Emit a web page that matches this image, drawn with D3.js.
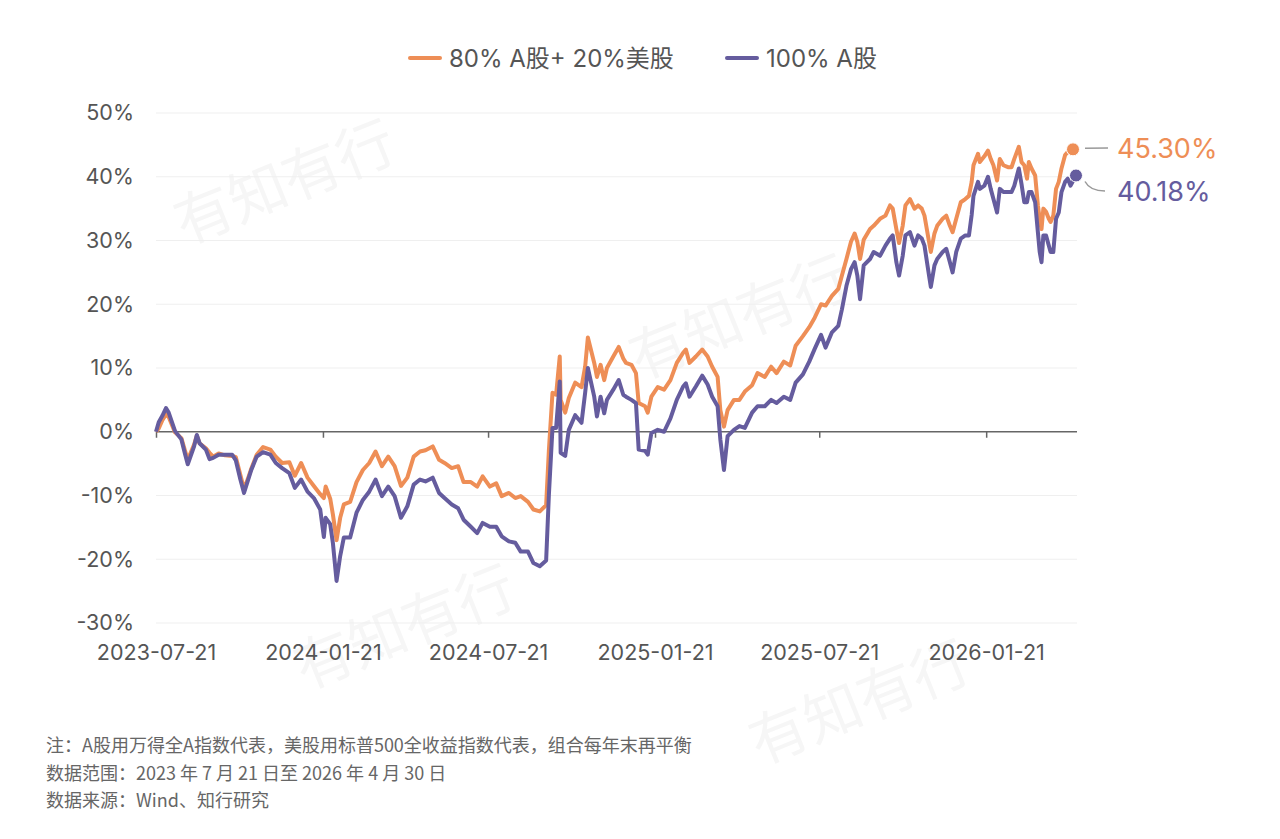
<!DOCTYPE html>
<html>
<head>
<meta charset="utf-8">
<script src="https://cdn.jsdelivr.net/npm/d3@7"></script>
<style>
  body { margin: 0; background: #fff; }
  svg { display: block; font-family: Inter, "Noto Sans CJK SC", sans-serif; }
</style>
</head>
<body>
<div id="chart"></div>
<script>
// 组合累计收益（%），按日期读图估计
var dates = [
  "2023-07-21","2023-07-24","2023-07-28","2023-08-01","2023-08-04","2023-08-11","2023-08-18","2023-08-22","2023-08-25","2023-09-01",
  "2023-09-04","2023-09-07","2023-09-14","2023-09-18","2023-09-22","2023-09-28","2023-10-05","2023-10-13","2023-10-17","2023-10-22",
  "2023-10-26","2023-10-30","2023-11-03","2023-11-09","2023-11-16","2023-11-24","2023-11-30","2023-12-07","2023-12-15","2023-12-21",
  "2023-12-28","2024-01-04","2024-01-11","2024-01-18","2024-01-22","2024-01-24","2024-01-29","2024-02-01","2024-02-05","2024-02-09",
  "2024-02-13","2024-02-20","2024-02-27","2024-03-05","2024-03-12","2024-03-19","2024-03-26","2024-04-02","2024-04-09","2024-04-16",
  "2024-04-23","2024-04-30","2024-05-07","2024-05-13","2024-05-21","2024-05-28","2024-06-03","2024-06-11","2024-06-18","2024-06-24",
  "2024-07-02","2024-07-09","2024-07-15","2024-07-23","2024-07-30","2024-08-05","2024-08-13","2024-08-20","2024-08-26","2024-09-03",
  "2024-09-09","2024-09-16","2024-09-23","2024-09-26","2024-09-30","2024-10-04","2024-10-08","2024-10-09","2024-10-14","2024-10-18",
  "2024-10-25","2024-11-01","2024-11-05","2024-11-08","2024-11-15","2024-11-18","2024-11-22","2024-11-26","2024-11-29","2024-12-06",
  "2024-12-12","2024-12-17","2024-12-20","2024-12-26","2024-12-31","2025-01-03","2025-01-10","2025-01-13","2025-01-17","2025-01-24",
  "2025-01-31","2025-02-07","2025-02-14","2025-02-21","2025-02-24","2025-02-28","2025-03-07","2025-03-14","2025-03-20","2025-03-25",
  "2025-03-31","2025-04-03","2025-04-07","2025-04-11","2025-04-18","2025-04-24","2025-04-30","2025-05-08","2025-05-14","2025-05-22",
  "2025-05-29","2025-06-04","2025-06-12","2025-06-19","2025-06-25","2025-07-03","2025-07-10","2025-07-16","2025-07-23","2025-07-28",
  "2025-08-04","2025-08-11","2025-08-15","2025-08-20","2025-08-25","2025-08-29","2025-09-01","2025-09-04","2025-09-08","2025-09-15",
  "2025-09-19","2025-09-26","2025-10-02","2025-10-07","2025-10-10","2025-10-14","2025-10-17","2025-10-21","2025-10-24","2025-10-29",
  "2025-11-03","2025-11-07","2025-11-11","2025-11-14","2025-11-19","2025-11-21","2025-11-25","2025-11-28","2025-12-04","2025-12-08",
  "2025-12-12","2025-12-15","2025-12-19","2025-12-24","2025-12-29","2026-01-02","2026-01-05","2026-01-07","2026-01-12","2026-01-14",
  "2026-01-19","2026-01-23","2026-01-26","2026-01-29","2026-02-02","2026-02-05","2026-02-09","2026-02-14","2026-02-18","2026-02-21",
  "2026-02-26","2026-03-01","2026-03-04","2026-03-07","2026-03-09","2026-03-12","2026-03-16","2026-03-19","2026-03-21","2026-03-23",
  "2026-03-25","2026-03-28","2026-03-31","2026-04-02","2026-04-05","2026-04-08","2026-04-11","2026-04-14","2026-04-18","2026-04-21",
  "2026-04-24","2026-04-30"
];

// 80% A股 + 20% 美股
var mixValues = [
  0, 0.5, 1.8, 2.7, 2.3, -0.1, -1.0, -3.0, -4.4, -2.0,
  -0.6, -1.8, -2.6, -3.3, -3.9, -3.4, -3.7, -3.8, -4.0, -6.8,
  -9.0, -7.5, -5.8, -3.6, -2.4, -2.8, -3.9, -4.9, -4.8, -6.9,
  -4.9, -7.2, -8.5, -9.8, -10.4, -8.6, -10.5, -13.0, -17.0, -13.5,
  -11.4, -11.0, -7.9, -6.0, -4.9, -3.1, -5.4, -3.9, -5.4, -8.5,
  -7.2, -3.9, -3.1, -2.9, -2.3, -4.4, -4.9, -5.7, -5.4, -7.9,
  -7.9, -8.6, -7.0, -8.6, -8.1, -10.1, -9.6, -10.4, -10.1, -11.0,
  -12.2, -12.5, -11.5, -3.0, 6.1, 5.8, 11.8, 5.0, 3.0, 5.3,
  7.7, 7.0, 10.2, 14.8, 10.8, 8.6, 10.5, 8.1, 10.0, 11.8,
  13.3, 11.5, 10.8, 10.5, 9.2, 4.5, 4.0, 3.0, 5.5, 7.0,
  6.6, 8.1, 10.8, 12.4, 12.9, 10.8, 11.8, 12.9, 11.8, 10.2,
  8.6, 3.4, 0.8, 3.4, 5.0, 5.0, 6.3, 7.3, 9.2, 8.6,
  10.2, 9.2, 11.0, 10.4, 13.5, 15.0, 16.4, 17.9, 20.0, 19.8,
  21.3, 22.4, 24.5, 27.1, 29.8, 31.1, 29.8, 27.1, 30.1, 31.8,
  32.3, 33.4, 33.9, 35.5, 35.0, 31.8, 29.6, 32.3, 35.5, 36.5,
  35.0, 35.5, 35.0, 33.9, 29.8, 28.2, 31.1, 32.3, 33.4, 33.9,
  32.3, 31.3, 33.4, 36.0, 36.5, 37.0, 39.2, 41.8, 43.6, 42.3,
  43.2, 44.1, 42.8, 41.8, 39.4, 42.8, 41.8, 41.5, 41.5, 42.8,
  44.7, 42.3, 41.8, 39.7, 42.3, 41.3, 40.2, 35.5, 33.4, 31.8,
  35.0, 34.5, 33.4, 32.9, 33.9, 38.1, 39.2, 41.3, 43.4, 43.9,
  44.2, 44.3
];

// 100% A股
var aValues = [
  0, 1.5, 2.5, 3.7, 3.0, 0.1, -1.2, -3.5, -5.1, -2.3,
  -0.5, -1.8, -2.8, -4.3, -4.1, -3.6, -3.6, -3.6, -4.5, -7.5,
  -9.6, -7.8, -6.0, -3.9, -3.2, -3.6, -4.9, -5.7, -6.5, -8.8,
  -7.5, -9.4, -10.4, -12.2, -16.5, -13.5, -14.5, -17.5, -23.4, -19.5,
  -16.6, -16.6, -12.7, -10.7, -9.4, -7.5, -10.1, -8.6, -10.1, -13.5,
  -11.7, -8.3, -7.5, -7.8, -7.2, -9.6, -10.4, -11.4, -12.0, -13.8,
  -14.9, -15.9, -14.3, -14.9, -14.9, -16.4, -17.2, -17.4, -18.8, -18.8,
  -20.6, -21.1, -20.2, -10.0, 0.6, 0.6, 7.9, -3.3, -3.8, 0.3,
  2.6, 1.4, 6.1, 10.0, 5.5, 2.4, 5.5, 2.9, 5.0, 6.6,
  8.1, 5.8, 5.5, 5.0, 4.5, -2.8, -3.0, -3.6, -0.2, 0.3,
  0.0, 2.1, 5.0, 7.1, 7.6, 5.5, 7.1, 8.8, 7.4, 5.5,
  4.0, -1.2, -6.0, -0.7, 0.3, 0.9, 0.6, 3.0, 4.0, 4.0,
  5.0, 4.5, 5.5, 5.0, 7.7, 9.0, 11.0, 13.0, 15.2, 13.2,
  15.6, 16.6, 19.2, 22.9, 25.5, 26.6, 24.5, 20.8, 26.1, 27.1,
  28.2, 27.6, 29.2, 30.3, 30.8, 26.6, 24.5, 27.6, 30.8, 31.3,
  29.2, 30.8, 30.3, 29.2, 24.5, 22.7, 26.1, 27.1, 28.2, 28.7,
  26.6, 25.0, 28.2, 30.3, 30.8, 30.8, 34.0, 37.0, 39.2, 38.1,
  38.6, 40.0, 38.1, 36.5, 34.4, 38.1, 37.6, 37.6, 37.6, 38.6,
  41.3, 38.8, 36.0, 36.0, 37.6, 37.6, 36.0, 31.3, 28.2, 26.6,
  30.8, 30.8, 29.2, 28.2, 28.2, 33.4, 34.4, 37.6, 39.2, 39.7,
  38.6, 40.2
];

var seriesNames = ["80% A股+ 20%美股", "100% A股"];
var endLabels = ["45.30%", "40.18%"];
var yTicks = [-30, -20, -10, 0, 10, 20, 30, 40, 50];
var xTicks = ["2023-07-21", "2024-01-21", "2024-07-21", "2025-01-21", "2025-07-21", "2026-01-21"];
var notes = [
  "注：A股用万得全A指数代表，美股用标普500全收益指数代表，组合每年末再平衡",
  "数据范围：2023 年 7 月 21 日至 2026 年 4 月 30 日",
  "数据来源：Wind、知行研究"
];

var colors = ["#EE8E56", "#655C9E"];
var width = 1280, height = 839;
var parse = d3.timeParse("%Y-%m-%d");

var svg = d3.select("#chart").append("svg")
    .attr("width", width)
    .attr("height", height);

// 水印（很淡）
var wm = svg.append("g").attr("fill", "#f6f6f6").style("font-family", "'Noto Sans CJK SC'");
[[185, 245], [640, 380], [305, 690], [760, 765]].forEach(function(p) {
  wm.append("text")
    .attr("transform", "translate(" + p[0] + "," + p[1] + ") rotate(-22)")
    .attr("font-size", 58)
    .text("有知有行");
});

var x = d3.scaleTime()
    .domain([parse("2023-07-21"), parse("2026-04-30")])
    .range([156, 1076]);

var y = d3.scaleLinear()
    .domain([-30, 50])
    .range([623, 113]);

// 网格线
svg.append("g")
  .selectAll("line")
  .data(yTicks.filter(function(d) { return d !== 0; }))
  .enter()
  .append("line")
    .attr("x1", 156)
    .attr("x2", 1077)
    .attr("y1", function(d) { return y(d); })
    .attr("y2", function(d) { return y(d); })
    .attr("stroke", "#efefef")
    .attr("stroke-width", 1);

// y 轴
var yAxis = d3.axisLeft(y)
    .tickValues(yTicks)
    .tickSize(0)
    .tickPadding(0)
    .tickFormat(function(d) { return d + "%"; });

svg.append("g")
  .attr("transform", "translate(134,0)")
  .call(yAxis)
  .call(function(g) { g.select(".domain").remove(); })
  .selectAll("text")
    .attr("font-size", 21.5)
    .attr("fill", "#555")
    .style("font-family", "Inter, sans-serif");

// 零轴 + x 轴刻度
var xAxis = d3.axisBottom(x)
    .tickValues(xTicks.map(parse))
    .tickSize(6)
    .tickSizeOuter(0)
    .tickFormat(d3.timeFormat("%Y-%m-%d"));

var xg = svg.append("g")
  .attr("transform", "translate(0," + y(0) + ")")
  .call(xAxis);
xg.select(".domain")
  .attr("d", "M156,0H1077")
  .attr("stroke", "#666")
  .attr("stroke-width", 1.5);
xg.selectAll(".tick line")
  .attr("stroke", "#666")
  .attr("stroke-width", 1.5);
xg.selectAll(".tick text")
  .attr("y", y(-30) - y(0) + 22)
  .attr("font-size", 21.5)
  .attr("fill", "#555")
  .style("font-family", "Inter, sans-serif");

// 折线
var line = d3.line()
    .x(function(d) { return x(d.date); })
    .y(function(d) { return y(d.value); });

var series = [mixValues, aValues].map(function(vals) {
  return vals.map(function(v, i) { return { date: parse(dates[i]), value: v }; });
});

series.forEach(function(s, i) {
  svg.append("path")
    .datum(s)
    .attr("fill", "none")
    .attr("stroke", colors[i])
    .attr("stroke-width", 4)
    .attr("stroke-linejoin", "round")
    .attr("d", line);
});

// 末端圆点和标签
var labelY = [148, 191];
series.forEach(function(s, i) {
  var last = s[s.length - 1];
  var cx = x(last.date) - (i === 0 ? 3 : 0);
  var cy = y(last.value);
  if (i === 0) {
    svg.append("path")
      .attr("d", "M" + (cx + 12) + "," + (cy - 1) + "L" + 1108 + "," + labelY[i])
      .attr("stroke", "#999").attr("stroke-width", 1.5).attr("fill", "none");
  } else {
    svg.append("path")
      .attr("d", "M" + (cx + 9) + "," + (cy + 6) + "Q1090," + labelY[i] + " 1105," + labelY[i])
      .attr("stroke", "#999").attr("stroke-width", 1.5).attr("fill", "none");
  }
  svg.append("circle")
    .attr("cx", cx)
    .attr("cy", cy)
    .attr("r", 6.5)
    .attr("fill", colors[i])
    .attr("stroke", "#fff")
    .attr("stroke-width", 1);
  svg.append("text")
    .attr("x", 1117)
    .attr("y", labelY[i] + 10)
    .attr("font-size", 27)
    .attr("fill", colors[i])
    .style("font-family", "Inter, sans-serif")
    .text(endLabels[i]);
});

// 图例
var legendX = [410, 727];
seriesNames.forEach(function(name, i) {
  var g = svg.append("g").attr("transform", "translate(" + legendX[i] + ",58)");
  g.append("line")
    .attr("x1", 0).attr("x2", 30)
    .attr("stroke", colors[i])
    .attr("stroke-width", 4)
    .attr("stroke-linecap", "round");
  g.append("text")
    .attr("x", 39)
    .attr("y", 8.5)
    .attr("font-size", 24)
    .attr("fill", "#555")
    .text(name);
});

// 注释
svg.append("g")
  .selectAll("text")
  .data(notes)
  .enter()
  .append("text")
    .attr("x", 46)
    .attr("y", function(d, i) { return 752 + i * 27.5; })
    .attr("font-size", 18)
    .attr("fill", "#666")
    .style("font-family", "'Noto Sans CJK SC', sans-serif")
    .text(function(d) { return d; });
</script>
</body>
</html>
